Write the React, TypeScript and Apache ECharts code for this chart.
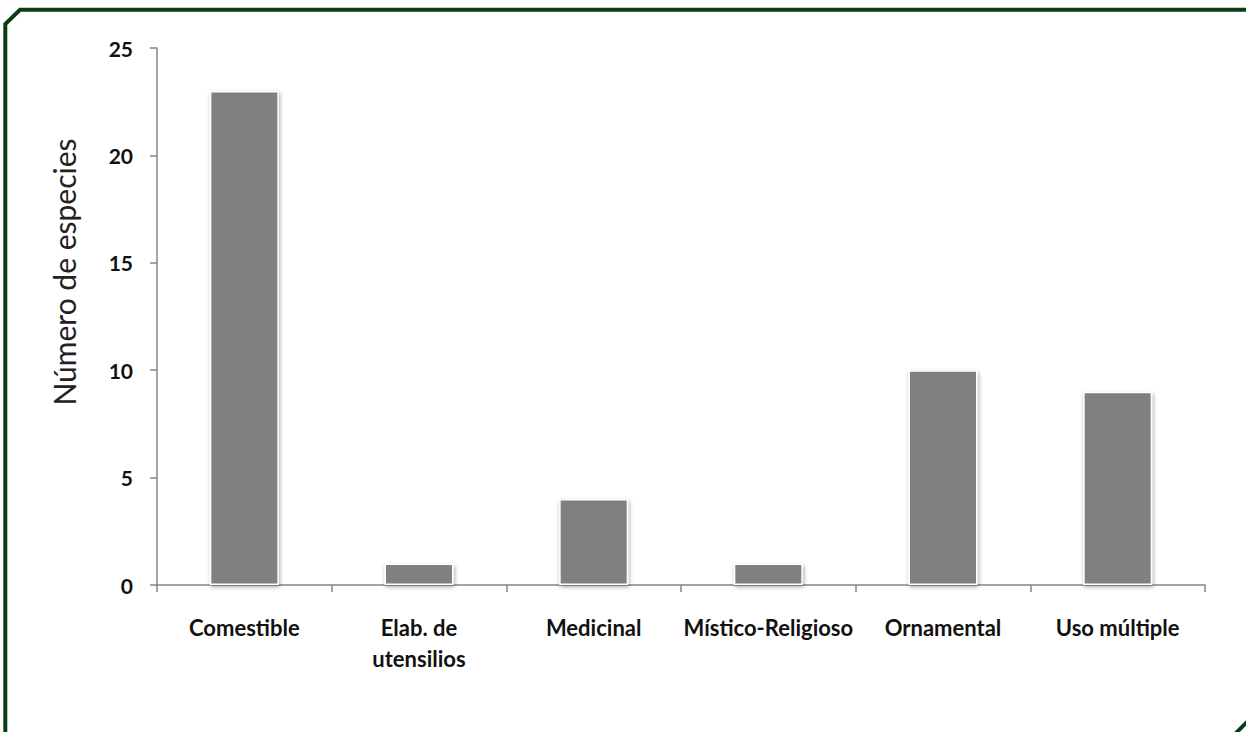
import React, { useEffect, useRef } from "react";
import * as echarts from "echarts";

const categories = [
  "Comestible",
  "Elab. de\nutensilios",
  "Medicinal",
  "Místico-Religioso",
  "Ornamental",
  "Uso múltiple",
];
const speciesCounts = [23, 1, 4, 1, 10, 9];
const yTicks = { min: 0, max: 25, interval: 5 };
const yTitle = "Número de especies";

const FONT = "Lato, 'Open Sans', sans-serif";
const FRAME = "#0b3d13";

export default function App() {
  const ref = useRef<HTMLDivElement>(null);

  useEffect(() => {
    if (!ref.current) return;
    const chart = echarts.init(ref.current, null, { renderer: "svg" });
    chart.setOption({
      animation: false,
      backgroundColor: "#ffffff",
      grid: { left: 157, right: 41, top: 48, bottom: 147 },
      xAxis: {
        type: "category",
        data: categories,
        axisLine: { lineStyle: { color: "#868686", width: 1.5 } },
        axisTick: { show: true, length: 7, alignWithLabel: false, lineStyle: { color: "#868686", width: 1.5 } },
        axisLabel: {
          interval: 0,
          margin: 27,
          color: "#111",
          fontFamily: FONT,
          fontSize: 22,
          fontWeight: "bold",
          lineHeight: 31,
          verticalAlign: "top",
        },
      },
      yAxis: {
        type: "value",
        min: yTicks.min,
        max: yTicks.max,
        interval: yTicks.interval,
        axisLine: { show: true, lineStyle: { color: "#868686", width: 1.5 } },
        axisTick: { show: true, length: 7, lineStyle: { color: "#868686", width: 1.5 } },
        splitLine: { show: false },
        axisLabel: {
          margin: 24,
          color: "#111",
          fontFamily: FONT,
          fontSize: 21,
          fontWeight: "bold",
        },
      },
      series: [
        {
          type: "bar",
          data: speciesCounts,
          barWidth: 69,
          itemStyle: {
            color: "#808080",
            borderColor: "#ffffff",
            borderWidth: 1.5,
            shadowColor: "rgba(0,0,0,0.35)",
            shadowBlur: 4,
            shadowOffsetX: 1,
            shadowOffsetY: 2,
          },
        },
      ],
      graphic: [
        {
          type: "text",
          x: 64,
          y: 272,
          rotation: Math.PI / 2,
          style: {
            text: yTitle,
            fill: "#222",
            font: `30px ${FONT}`,
            textAlign: "center",
            textVerticalAlign: "middle",
          },
        },
        {
          type: "polyline",
          shape: { points: [[5.3, 760], [5.3, 24], [20, 9.8], [1260, 9.8]] },
          style: { stroke: FRAME, lineWidth: 4, fill: null },
        },
        {
          type: "line",
          shape: { x1: 1234, y1: 735, x2: 1250, y2: 719 },
          style: { stroke: FRAME, lineWidth: 4 },
        },
      ],
    });
    return () => chart.dispose();
  }, []);

  return (
    <div
      ref={ref}
      style={{ position: "fixed", left: 0, top: 0, width: 1246, height: 732 }}
    />
  );
}
